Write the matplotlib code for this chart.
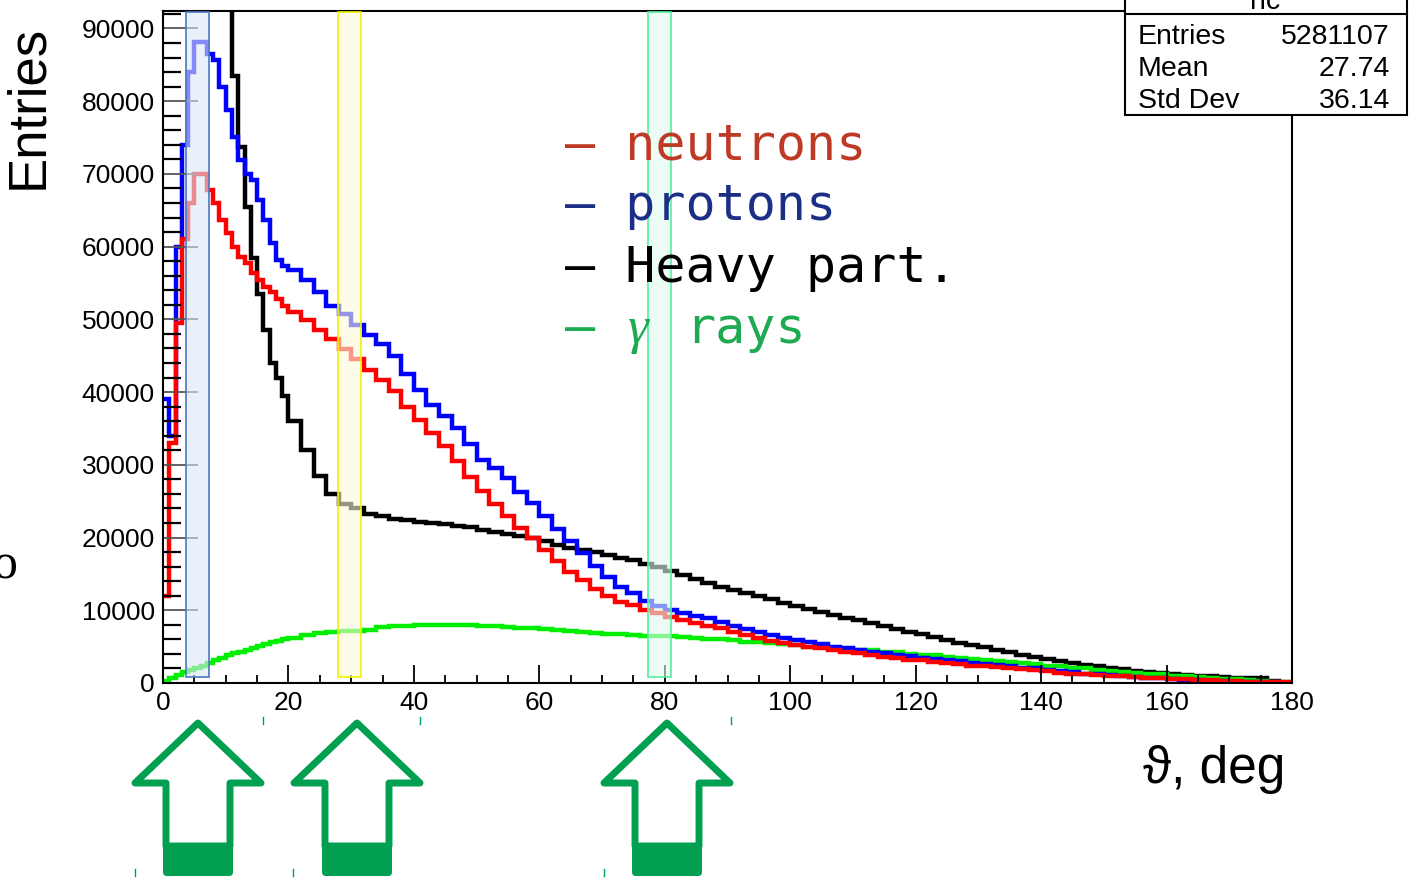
import matplotlib.pyplot as plt
from matplotlib.patches import Rectangle, Polygon, FancyBboxPatch
from matplotlib.ticker import MultipleLocator

plt.rcParams['font.family'] = ['Liberation Sans', 'DejaVu Sans']

# bin edges: 1 deg bins up to 20 deg, 2 deg bins after
edges = list(range(0, 20)) + list(range(20, 181, 2))

neutrons = [12000, 33000, 49500, 61000, 66000, 70000, 70000, 67800, 66000, 63700,
            61900, 60000, 58600, 57800, 56400, 55400, 54500, 53800, 52800, 51800,
            51000, 49900, 48600, 47300, 45900, 44500, 43000, 41600, 40100, 38000,
            36200, 34400, 32600, 30500, 28300, 26400, 24600, 23000, 21300, 19900,
            18300, 16800, 15300, 14200, 12900, 11900, 11200, 10700, 10100, 9600,
            9100, 8700, 8300, 7900, 7500, 7000, 6600, 6200, 5800, 5500,
            5200, 5000, 4800, 4600, 4300, 4100, 3900, 3600, 3400, 3200,
            3100, 2900, 2700, 2600, 2400, 2300, 2200, 2100, 1900, 1800,
            1600, 1400, 1300, 1200, 1100, 1000, 900, 850, 750, 700,
            600, 500, 400, 350, 300, 250, 200, 200, 150, 150]

protons = [39000, 34000, 60000, 74000, 84000, 88200, 88200, 86500, 85700, 82000,
           78800, 75100, 71900, 70000, 69200, 66400, 63700, 60500, 58200, 57400,
           56800, 55400, 53700, 51900, 50800, 49200, 47800, 46600, 45000, 42500,
           40300, 38200, 36700, 35000, 32800, 30600, 29600, 28200, 26200, 24800,
           23000, 21200, 19500, 17900, 16100, 14600, 13200, 12400, 11300, 10600,
           10100, 9600, 9200, 8900, 8400, 7800, 7400, 7000, 6600, 6200,
           5900, 5600, 5300, 5000, 4800, 4500, 4300, 4100, 3900, 3700,
           3500, 3300, 3100, 3000, 2800, 2600, 2500, 2300, 2100, 2000,
           1800, 1600, 1500, 1300, 1200, 1100, 950, 850, 750, 650,
           550, 450, 380, 320, 260, 200, 160, 120, 80, 40]

heavy = [150000, 150000, 150000, 150000, 150000, 150000, 150000, 150000, 150000, 150000,
         150000, 83500, 73700, 65500, 58500, 53500, 48500, 44000, 42000, 39500,
         36000, 32000, 28500, 26000, 24600, 24000, 23300, 23000, 22600, 22400,
         22200, 22000, 21800, 21600, 21400, 21100, 20800, 20500, 20200, 19900,
         19500, 19000, 18600, 18300, 18000, 17600, 17200, 16900, 16400, 15900,
         15400, 14800, 14300, 13800, 13200, 12800, 12400, 12000, 11500, 11000,
         10600, 10200, 9800, 9400, 9000, 8600, 8200, 7800, 7400, 7000,
         6700, 6300, 5900, 5500, 5200, 4900, 4500, 4200, 3900, 3600,
         3300, 3000, 2700, 2500, 2300, 2100, 1900, 1700, 1500, 1400,
         1250, 1100, 1000, 900, 800, 750, 700, 650, 300, 0]

gammas = [300, 700, 1100, 1500, 1800, 2100, 2400, 2800, 3200, 3500,
          3800, 4100, 4300, 4500, 4800, 5100, 5400, 5600, 5800, 6000,
          6200, 6600, 6900, 7000, 7100, 7100, 7300, 7700, 7900, 7900,
          8000, 8000, 8000, 8000, 8000, 7900, 7800, 7700, 7600, 7500,
          7400, 7300, 7200, 7000, 6900, 6800, 6700, 6600, 6500, 6500,
          6400, 6300, 6200, 6100, 6000, 5900, 5700, 5600, 5500, 5300,
          5200, 5000, 4900, 4800, 4700, 4600, 4500, 4300, 4200, 4000,
          3900, 3800, 3600, 3400, 3300, 3200, 3000, 2900, 2700, 2600,
          2400, 2300, 2100, 2000, 1800, 1700, 1500, 1400, 1300, 1200,
          1000, 900, 800, 700, 600, 500, 400, 300, 200, 100]

# highlighted angular windows (deg) and their colours
windows = [(3.7, 7.3), (27.9, 31.6), (77.3, 81.0)]
win_face = [(0.86, 0.90, 0.96, 0.6), (0.98, 0.98, 0.85, 0.6), (0.88, 0.98, 0.93, 0.6)]
win_edge = ['#4a78c2', '#f2f200', '#55eea0']

stats_names = ['Entries', 'Mean', 'Std Dev']
stats_vals = ['5281107', '27.74', '36.14']

W, H = 1419, 888
fig = plt.figure(figsize=(W / 100, H / 100), dpi=100)
ax = fig.add_axes([163 / W, 1 - 683 / H, (1292 - 163) / W, (683 - 11) / H])

ax.stairs(heavy, edges, baseline=None, color='black', lw=3.2)
ax.stairs(gammas, edges, baseline=None, color='#00ee00', lw=3.2)
ax.stairs(protons, edges, baseline=None, color='#0000ff', lw=3.2)
ax.stairs(neutrons, edges, baseline=None, color='#ff0000', lw=3.2)

for (a, b), fc, ec in zip(windows, win_face, win_edge):
    ax.add_patch(Rectangle((a, 0.009), b - a, 0.989, transform=ax.get_xaxis_transform(),
                           facecolor=fc, edgecolor=ec, lw=1.2, zorder=5))

ax.set_xlim(0, 180)
ax.set_ylim(0, 92400)
ax.xaxis.set_major_locator(MultipleLocator(20))
ax.xaxis.set_minor_locator(MultipleLocator(5))
ax.yaxis.set_major_locator(MultipleLocator(10000))
ax.yaxis.set_minor_locator(MultipleLocator(2000))
ax.tick_params(axis='x', which='major', direction='in', length=13, width=1.3, pad=6, labelsize=19)
ax.tick_params(axis='x', which='minor', direction='in', length=6, width=1.3)
ax.tick_params(axis='y', which='major', direction='in', length=25, width=1.3, pad=6,
               labelsize=19, color='#555555')
ax.tick_params(axis='y', which='minor', direction='in', length=13, width=1.6)
for s in ax.spines.values():
    s.set_linewidth(1.5)

# overlay in pixel coordinates for the slide annotations
ov = fig.add_axes([0, 0, 1, 1], zorder=10)
ov.set_xlim(0, W)
ov.set_ylim(H, 0)
ov.axis('off')
ov.patch.set_alpha(0)

# legend written as text
mono = 'DejaVu Sans Mono'
ov.text(565, 160, '– neutrons', family=mono, size=36, color='#bf3a26')
ov.text(565, 220, '– protons', family=mono, size=36, color='#1c2f86')
ov.text(565, 282, '– Heavy part.', family=mono, size=36, color='black')
ov.text(565, 343, '–', family=mono, size=36, color='#1daa50')
ov.text(627, 343, 'γ', family='Liberation Serif', style='italic', size=38, color='#1daa50')
ov.text(685, 343, 'rays', family=mono, size=36, color='#1daa50')

# stats box
ov.add_patch(Rectangle((1125, -5), 282, 120, facecolor='white', edgecolor='black', lw=1.5))
ov.plot([1125, 1407], [14, 14], color='black', lw=1.5)
ov.text(1265, 9, 'hc', ha='center', size=20.5)
for i, (n, v) in enumerate(zip(stats_names, stats_vals)):
    ov.text(1138, 44 + i * 32, n, size=20.5)
    ov.text(1390, 44 + i * 32, v, size=20.5, ha='right')

ov.text(28, 107, 'Entries', rotation=90, ha='center', va='center', size=38)
ov.text(1285, 783, 'ϑ, deg', ha='right', size=37)
ov.text(5, 578, 'o', ha='center', family='Liberation Serif', size=36)

# green arrows under the axis
arrow_green = '#00a050'
for cx in [198, 357, 667]:
    pts = [(cx, 723), (cx + 63, 783), (cx + 32, 783), (cx + 32, 846),
           (cx - 32, 846), (cx - 32, 783), (cx - 63, 783)]
    ov.add_patch(Polygon(pts, closed=True, fill=False, edgecolor=arrow_green,
                         lw=5, joinstyle='round'))
    ov.add_patch(FancyBboxPatch((cx - 35, 843), 70, 33,
                                boxstyle='round,pad=0,rounding_size=4',
                                facecolor=arrow_green, edgecolor='none'))
for x, y in [(263, 717), (420, 717), (731, 717), (135, 869), (293, 869), (604, 869)]:
    ov.plot([x, x], [y, y + 7], color=arrow_green, lw=1)

fig.savefig('out.png', dpi=100)
